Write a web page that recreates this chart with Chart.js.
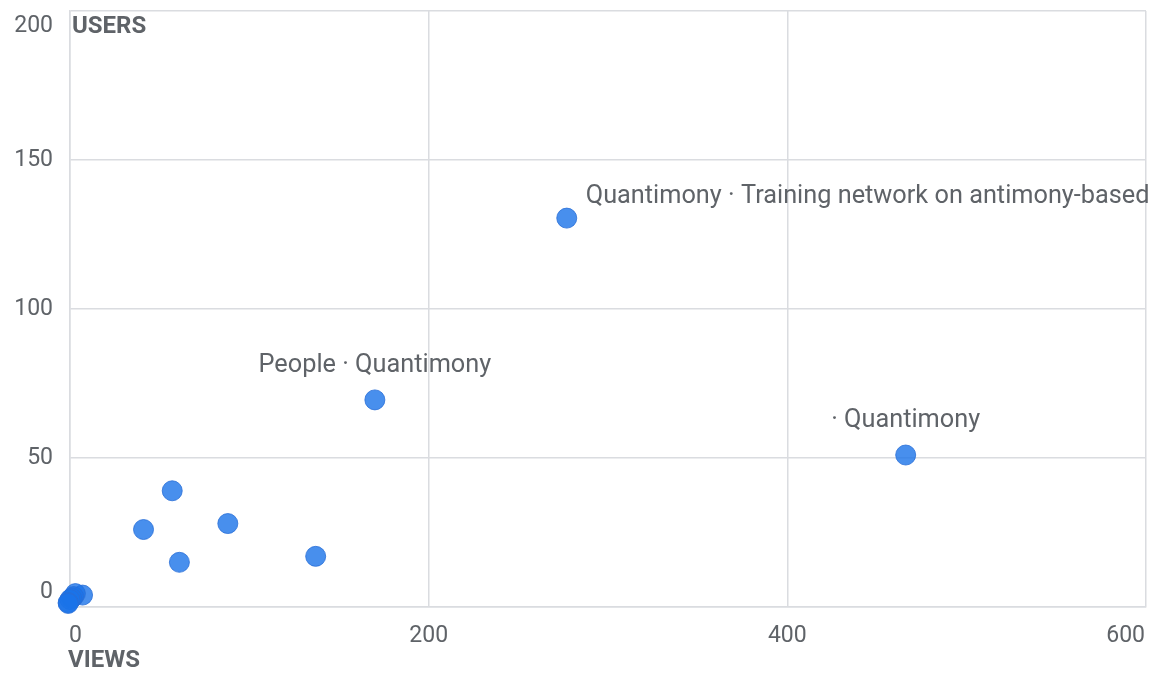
<!DOCTYPE html>
<html>
<head>
<meta charset="utf-8">
<script src="https://cdn.jsdelivr.net/npm/chart.js@4.4.1/dist/chart.umd.min.js"></script>
<style>
  html, body { margin: 0; padding: 0; background: #fff; }
  #wrap { width: 1159px; height: 677px; }
</style>
</head>
<body>
<div id="wrap"><canvas id="scatterChart"></canvas></div>
<script>
  // views / users per page
  const views = [277, 466, 170, 57, 41, 88, 61, 137, 7, 3, 2, 1, 0, -1, -1];
  const users = [130.5, 51, 69.5, 39, 26, 28, 15, 17, 4, 4.5, 3.5, 3, 2.5, 1.5, 1.2];
  const pointLabels = [
    "Quantimony · Training network on antimony-based",
    "· Quantimony",
    "People · Quantimony",
  ];
  const xTicks = [0, 200, 400, 600];
  const yTicks = [0, 50, 100, 150, 200];

  const textGrey = "#5f6368";

  const overlay = {
    id: "overlay",
    afterDatasetsDraw(chart) {
      const ctx = chart.ctx;
      const area = chart.chartArea;
      const xs = chart.scales.x;
      const ys = chart.scales.y;
      ctx.save();

      // tick labels, kept inside the plot edges
      ctx.fillStyle = textGrey;
      ctx.font = "23px Roboto";
      ctx.textBaseline = "middle";
      ctx.textAlign = "right";
      yTicks.forEach(function (v) {
        let py = ys.getPixelForValue(v);
        py = Math.min(Math.max(py, area.top + 15), area.bottom - 15);
        ctx.fillText(String(v), area.left - 17, py);
      });
      ctx.textAlign = "center";
      xTicks.forEach(function (v) {
        const label = String(v);
        const w = ctx.measureText(label).width;
        let px = xs.getPixelForValue(v);
        px = Math.min(Math.max(px, area.left + w / 2 - 1), area.right - w / 2 - 1);
        ctx.fillText(label, px, area.bottom + 29);
      });

      // axis titles
      ctx.font = "bold 24px Roboto";
      ctx.textAlign = "left";
      ctx.fillText("USERS", area.left + 2, area.top + 16);
      ctx.fillText("VIEWS", area.left - 2, area.bottom + 54);

      // point annotations
      ctx.font = "25.3px Roboto";
      const meta = chart.getDatasetMeta(0);
      pointLabels.forEach(function (label, i) {
        const pt = meta.data[i];
        if (!label || !pt) return;
        if (ctx.measureText(label).width > 300) {
          ctx.textAlign = "left";
          ctx.fillText(label, pt.x + 19, pt.y - 21);
        } else {
          ctx.textAlign = "center";
          ctx.fillText(label, pt.x, pt.y - 34);
        }
      });
      ctx.restore();
    },
  };

  const data = {
    datasets: [
      {
        data: views.map(function (v, i) {
          return { x: v, y: users[i] };
        }),
        backgroundColor: "rgba(26, 115, 232, 0.8)",
        borderColor: "rgba(40, 110, 215, 0.8)",
        borderWidth: 1,
        pointRadius: 10,
        pointHoverRadius: 10,
        clip: false,
      },
    ],
  };

  const config = {
    type: "scatter",
    data: data,
    options: {
      responsive: true,
      maintainAspectRatio: false,
      animation: false,
      layout: {
        padding: { top: 10, right: 13, left: 0, bottom: 0 },
      },
      plugins: {
        legend: { display: false },
        tooltip: { enabled: false },
      },
      scales: {
        x: {
          type: "linear",
          min: 0,
          max: 600,
          afterBuildTicks: function (axis) {
            axis.ticks = xTicks.map(function (v) { return { value: v }; });
          },
          afterFit: function (axis) { axis.height = 70; },
          ticks: { display: false },
          grid: { color: "#dadce0", lineWidth: 1.5, drawTicks: false },
          border: { color: "#dadce0", width: 1.5 },
        },
        y: {
          type: "linear",
          min: 0,
          max: 200,
          afterBuildTicks: function (axis) {
            axis.ticks = yTicks.map(function (v) { return { value: v }; });
          },
          afterFit: function (axis) { axis.width = 70; },
          ticks: { display: false },
          grid: { color: "#dadce0", lineWidth: 1.5, drawTicks: false },
          border: { color: "#dadce0", width: 1.5 },
        },
      },
    },
    plugins: [overlay],
  };

  const ctx = document.getElementById("scatterChart").getContext("2d");
  const scatterChart = new Chart(ctx, config);
</script>
</body>
</html>
